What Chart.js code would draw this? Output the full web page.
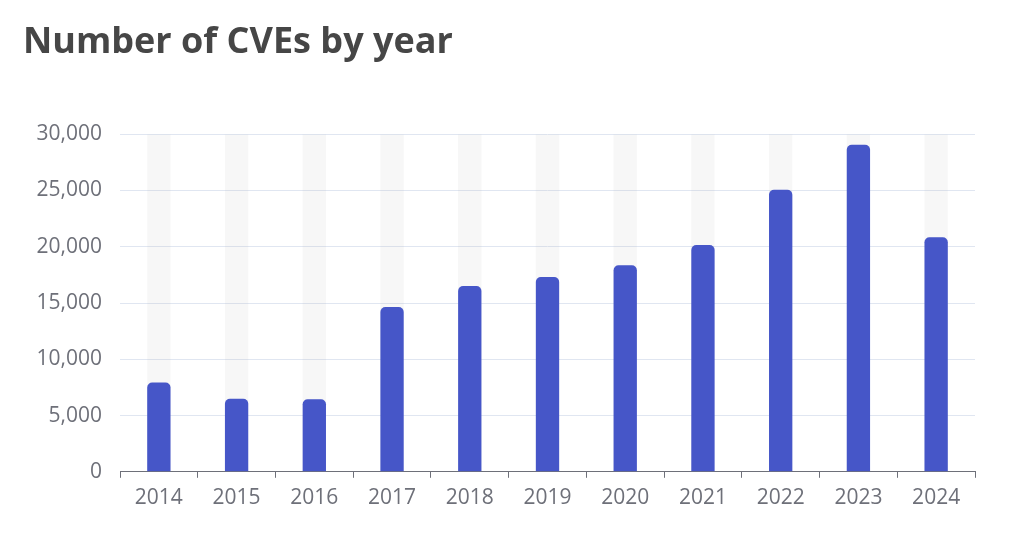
<!DOCTYPE html>
<html>
<head>
<meta charset="utf-8">
<script src="https://cdn.jsdelivr.net/npm/chart.js@4/dist/chart.umd.min.js"></script>
<style>
  html, body { margin: 0; padding: 0; background: #ffffff; }
  #wrap { width: 1024px; height: 552px; }
</style>
</head>
<body>
<div id="wrap"><canvas id="c" width="1024" height="552"></canvas></div>
<script>
const categories = ['2014', '2015', '2016', '2017', '2018', '2019', '2020', '2021', '2022', '2023', '2024'];
const cveCounts = [7928, 6487, 6449, 14643, 16509, 17305, 18350, 20155, 25059, 29066, 20850];
const backgroundValues = [30000, 30000, 30000, 30000, 30000, 30000, 30000, 30000, 30000, 30000, 30000];
const yTicks = [0, 5000, 10000, 15000, 20000, 25000, 30000];
const titleText = 'Number of CVEs by year';

new Chart(document.getElementById('c'), {
  type: 'bar',
  data: {
    labels: categories,
    datasets: [
      {
        label: 'CVEs',
        data: cveCounts,
        backgroundColor: '#4656c8',
        borderRadius: { topLeft: 5, topRight: 5, bottomLeft: 0, bottomRight: 0 },
        borderSkipped: 'start',
        barPercentage: 0.3,
        categoryPercentage: 1,
        grouped: false
      },
      {
        label: 'bg',
        data: backgroundValues,
        backgroundColor: 'rgba(180,180,180,0.1)',
        barPercentage: 0.3,
        categoryPercentage: 1,
        grouped: false
      }
    ]
  },
  options: {
    responsive: false,
    animation: false,
    devicePixelRatio: 1,
    layout: { padding: { left: 23, right: 49, top: 0, bottom: 33 } },
    plugins: {
      legend: { display: false },
      tooltip: { enabled: false },
      title: {
        display: true,
        text: titleText,
        align: 'start',
        color: '#464646',
        font: { family: '"Open Sans", sans-serif', size: 36, weight: 'bold' },
        padding: { top: 21, bottom: 70 }
      }
    },
    scales: {
      x: {
        offset: true,
        grid: {
          display: true,
          offset: true,
          drawOnChartArea: false,
          drawTicks: true,
          tickLength: 6,
          color: '#6e7079'
        },
        border: { display: true, color: '#6e7079', width: 1 },
        ticks: {
          color: '#6e7079',
          padding: 8,
          font: { family: '"Open Sans", sans-serif', size: 21 },
          maxRotation: 0
        }
      },
      y: {
        min: 0,
        max: 30000,
        afterBuildTicks: (scale) => { scale.ticks = yTicks.map(v => ({ value: v })); },
        afterFit: (scale) => { scale.width = 97; },
        grid: { color: '#e0e6f1', drawTicks: false },
        border: { display: false },
        ticks: {
          color: '#6e7079',
          padding: 18,
          font: { family: '"Open Sans", sans-serif', size: 21 },
          callback: (v) => v.toLocaleString('en-US')
        }
      }
    }
  }
});
</script>
</body>
</html>
